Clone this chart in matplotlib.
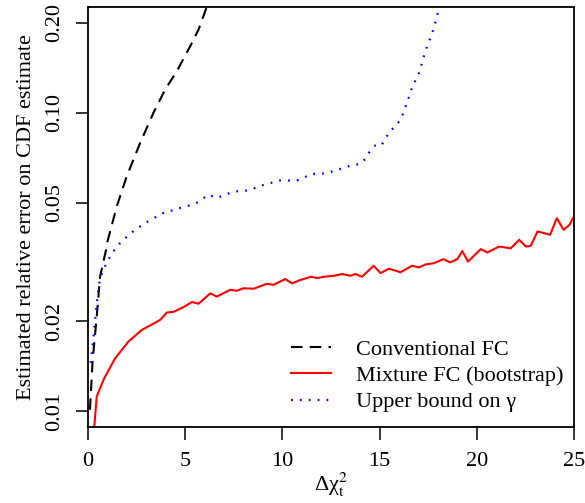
import numpy as np
import matplotlib
matplotlib.use('Agg')
import matplotlib.pyplot as plt

plt.rcParams['font.family'] = ['Liberation Serif', 'DejaVu Serif']
plt.rcParams['mathtext.fontset'] = 'stix'

# conventional FC (black dashed)
conv_x = [0.10, 0.24, 0.45, 0.62, 0.93, 0.96, 1.48, 1.99, 2.68, 3.37, 3.97,
          4.57, 5.26, 5.69, 6.11, 6.30]
conv_y = [0.0101, 0.0148, 0.0207, 0.0282, 0.0347, 0.0361, 0.0485, 0.0611,
          0.0791, 0.100, 0.1195, 0.1377, 0.167, 0.190, 0.226, 0.245]

# mixture FC (bootstrap), red solid
mix_x = [0.30, 0.45, 0.84, 1.39, 2.08, 2.77, 3.71, 4.06, 4.40, 4.91, 5.35,
         5.69, 6.29, 6.63, 7.32, 7.66, 8.00, 8.52, 9.20, 9.55, 10.15, 10.50,
         10.93, 11.48, 11.79, 12.13, 12.64, 13.08, 13.50, 13.76, 14.10, 14.70,
         15.05, 15.48, 16.08, 16.68, 17.02, 17.37, 17.80, 18.28, 18.63, 19.00,
         19.26, 19.55, 20.21, 20.55, 21.15, 21.75, 22.18, 22.53, 22.78, 23.13,
         23.78, 24.12, 24.47, 24.76, 25.00]
mix_y = [0.0085, 0.0112, 0.0129, 0.0150, 0.0171, 0.0187, 0.0202, 0.0214,
         0.0215, 0.0223, 0.0232, 0.0229, 0.0248, 0.0242, 0.0255, 0.0253,
         0.0258, 0.0257, 0.0267, 0.0265, 0.0277, 0.0268, 0.0275, 0.0282,
         0.0279, 0.0282, 0.0284, 0.0288, 0.0284, 0.0288, 0.0282, 0.0307,
         0.0290, 0.0300, 0.0292, 0.0307, 0.0303, 0.0310, 0.0313, 0.0323,
         0.0315, 0.0323, 0.0344, 0.0317, 0.0349, 0.0340, 0.0356, 0.0351,
         0.0375, 0.0356, 0.0358, 0.0400, 0.0390, 0.0443, 0.0405, 0.0420,
         0.0449]

# upper bound on gamma, blue dotted
ub_x = [0.14, 0.24, 0.33, 0.41, 0.45, 0.52, 0.62, 0.79, 0.99, 1.22, 1.48,
        1.82, 2.42, 3.20, 3.88, 4.74, 5.52, 6.20, 6.63, 7.49, 8.26, 9.04,
        9.90, 10.74, 11.13, 11.53, 11.96, 12.39, 12.82, 13.21, 13.63, 13.99,
        14.28, 14.50, 14.79, 15.10, 15.33, 15.57, 15.88, 16.12, 16.29, 16.43,
        16.57, 16.70, 16.92, 17.08, 17.20, 17.32, 17.46, 17.63, 17.77, 17.89,
        18.00, 18.10]
ub_y = [0.0145, 0.0167, 0.0190, 0.0215, 0.0230, 0.0248, 0.0279, 0.0297,
        0.0317, 0.0336, 0.0356, 0.0375, 0.0405, 0.0437, 0.0461, 0.0479,
        0.0495, 0.0531, 0.0518, 0.0544, 0.0549, 0.0573, 0.0593, 0.0592,
        0.0607, 0.0624, 0.0623, 0.0630, 0.0643, 0.0655, 0.0669, 0.0672,
        0.0701, 0.0742, 0.0777, 0.0777, 0.0826, 0.0870, 0.0909, 0.0959,
        0.1023, 0.1086, 0.1158, 0.1232, 0.1303, 0.1387, 0.1480, 0.1574,
        0.1680, 0.1786, 0.1900, 0.2025, 0.2160, 0.2300]

yticks = [0.01, 0.02, 0.05, 0.10, 0.20]
ytick_labels = ['0.01', '0.02', '0.05', '0.10', '0.20']
xticks = [0, 5, 10, 15, 20, 25]

fig = plt.figure(figsize=(5.85, 5.03), dpi=100)
ax = fig.add_axes([0.1504, 0.151, 0.8306, 0.835])

ax.plot(conv_x, conv_y, color='black', lw=1.5, linestyle=(0, (5.5, 3.5)),
        label='Conventional FC')
ax.plot(mix_x, mix_y, color='red', lw=1.5, label='Mixture FC (bootstrap)')
ax.plot(ub_x, ub_y, color='blue', lw=1.6, linestyle=(0, (0.8, 3.2)),
        label='Upper bound on γ')

ax.set_yscale('log')
ax.set_xlim(0, 25)
ax.set_ylim(0.00884, 0.226)
ax.set_yticks(yticks)
ax.set_yticklabels(ytick_labels, rotation=90, va='center')
ax.yaxis.set_minor_locator(matplotlib.ticker.NullLocator())
ax.set_xticks(xticks)

ax.tick_params(direction='out', length=9, width=1.1, labelsize=16)
ax.tick_params(axis='x', pad=9)
ax.tick_params(axis='y', pad=8)
for s in ax.spines.values():
    s.set_linewidth(1.3)

ax.set_xlabel(r'Δχ$^2_{\mathrm{t}}$', fontsize=16, labelpad=0)
ax.set_ylabel('Estimated relative error on CDF estimate', fontsize=16,
              labelpad=7)

ax.legend(loc='lower right', frameon=False, fontsize=16, handlelength=1.8,
          handletextpad=1.1, labelspacing=0.25, borderpad=0,
          borderaxespad=0, bbox_to_anchor=(0.978, 0.035))

fig.savefig('out.png', dpi=100)
